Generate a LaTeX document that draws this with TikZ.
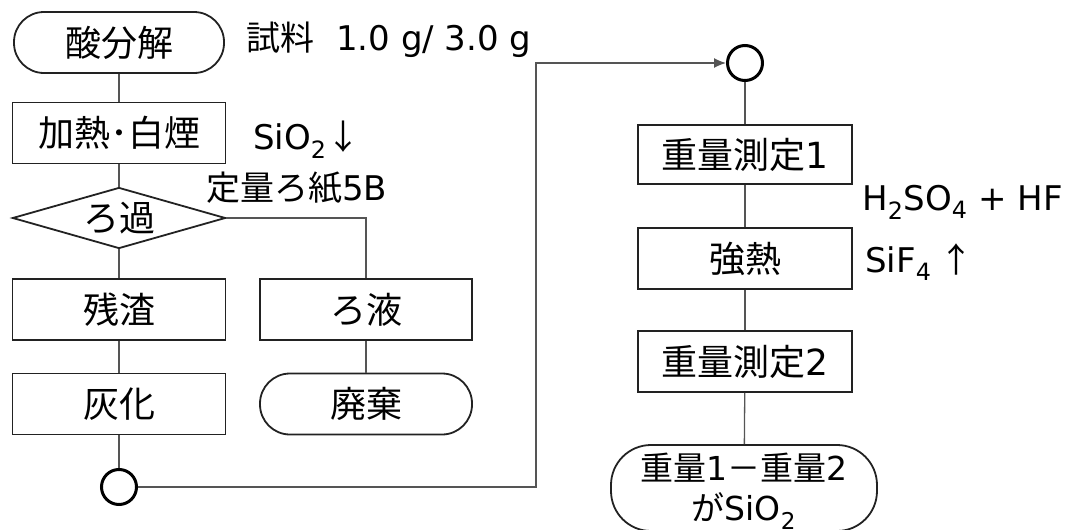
\documentclass[tikz,border=0pt]{standalone}
\usepackage{fontspec}
\setmainfont{Noto Sans CJK JP}
\newfontfamily\latfont{DejaVu Sans}
\newcommand\lfn[1]{{\latfont #1}}
\usetikzlibrary{arrows.meta,shapes.geometric}
\definecolor{boxc}{HTML}{222222}
\definecolor{linec}{HTML}{555555}
\newcommand\bxfont{\fontsize{36}{43}\selectfont}
\newcommand\ntfont{\fontsize{34}{40}\selectfont}
\newcommand\tmfont{\fontsize{33}{41}\selectfont}
\tikzset{
  box/.style={draw=boxc, line width=1.8pt, minimum width=213pt, minimum height=61pt, inner sep=0pt, font=\bxfont, align=center},
  term/.style={box, rounded corners=30pt},
  decide/.style={box, shape=diamond, shape aspect=3.5},
  conn/.style={draw=linec, line width=1.3pt},
  joint/.style={circle, draw=black, line width=3pt, minimum size=35pt, inner sep=0pt},
  note/.style={anchor=base west, inner sep=0pt, font=\ntfont},
}
\begin{document}
\begin{tikzpicture}[x=1pt,y=-1pt]
\useasboundingbox (0,0) rectangle (1066,530);
% left column
\node[term, minimum width=210pt] (a) at (119,42.5) {酸分解};
\node[box] (b) at (119,133) {加熱･白煙};
\node[decide] (c) at (119,218) {ろ過};
\node[box] (d) at (119,309.5) {残渣};
\node[box] (e) at (119,404) {灰化};
\node[box, minimum width=212pt] (f) at (366,309.5) {ろ液};
\node[term, minimum width=212pt] (g) at (366,404) {廃棄};
\node[joint] (c1) at (119,487) {};
% right column
\node[joint] (c2) at (745,63) {};
\node[box, minimum width=214pt, minimum height=59pt] (h) at (745,154.5) {重量測定\lfn{1}};
\node[box, minimum width=214pt] (i) at (745,258.5) {強熱};
\node[box, minimum width=214pt] (j) at (745,361.5) {重量測定\lfn{2}};
\node[term, minimum width=266pt, minimum height=86pt, rounded corners=40pt, font=\tmfont] (k) at (744,488) {};
\node[font=\tmfont, align=center, inner sep=0pt] (kt) at (744,491) {重量\lfn{1}－重量\lfn{2}\\[-1pt]が\lfn{SiO\textsubscript{2}}};
% notes
\node[note] (n1) at (246,50) {試料\hspace{22pt}\lfn{1.0 g/ 3.0 g}};
\node[note] (n2) at (253,149) {\lfn{SiO\textsubscript{2}}↓};
\node[note] (n3) at (206,200) {定量ろ紙\lfn{5B}};
\node[note] (n4) at (862,210) {\lfn{H\textsubscript{2}SO\textsubscript{4} + HF}};
\node[note] (n5) at (865,272) {\lfn{SiF\textsubscript{4}} ↑};
% connectors
\coordinate (p3) at (366,218);
\coordinate (p1) at (536,487);
\coordinate (p2) at (536,63);
\draw[conn] (a) -- (b);
\draw[conn] (b) -- (c);
\draw[conn] (c) -- (d);
\draw[conn] (d) -- (e);
\draw[conn] (e) -- (c1);
\draw[conn] (c.east) -- (p3) -- (f);
\draw[conn] (f) -- (g);
\draw[conn, -{Latex[length=12pt,width=10pt]}] (c1) -- (p1) -- (p2) -- (c2);
\draw[conn] (c2) -- (h);
\draw[conn] (h) -- (i);
\draw[conn] (i) -- (j);
\draw[conn] (j) -- (k);
\end{tikzpicture}
\end{document}
